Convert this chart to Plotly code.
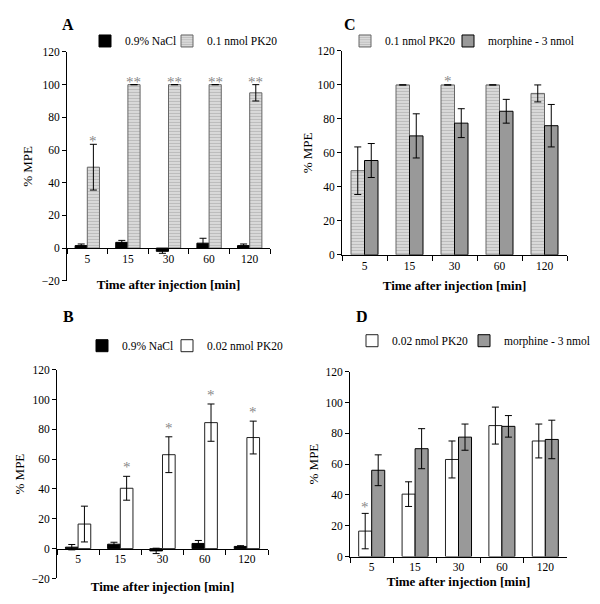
import plotly.graph_objects as go

times = ["5", "15", "30", "60", "120"]

# Panel A
a_nacl = [1.5, 3.5, -2.0, 3.0, 1.5]
a_nacl_err = [1.0, 1.2, 1.2, 3.0, 1.0]
a_pk01 = [49.5, 100, 100, 100, 95]
a_pk01_err = [14, 0, 0, 0, 5]
a_stars = ["*", "**", "**", "**", "**"]

# Panel B
b_nacl = [1.0, 3.0, -1.5, 3.5, 1.5]
b_nacl_err = [1.8, 1.3, 1.8, 2.0, 0.5]
b_pk002 = [16.5, 40.5, 63, 84.5, 74.5]
b_pk002_err = [12, 8, 12, 12.5, 11]
b_stars = ["", "*", "*", "*", "*"]

# Panel C
c_pk01 = [49.5, 100, 100, 100, 95]
c_pk01_err = [14, 0, 0, 0, 5]
c_morph = [55.5, 70, 77.5, 84.5, 76]
c_morph_err = [10, 13, 8.5, 7, 12.5]
c_stars = ["", "", "*", "", ""]

# Panel D
d_pk002 = [16.5, 40.5, 63, 85, 75]
d_pk002_err = [11.5, 8, 12, 12, 11]
d_morph = [56, 70, 77.5, 84.5, 76]
d_morph_err = [10, 13, 8.5, 7, 12.5]
d_stars = ["*", "", "", "", ""]

W, H = 600, 604
FONT = "'Liberation Serif', 'Times New Roman', Times, serif"
BARGAP = 0.4

fig = go.Figure()

def px_x(p):
    return p / W

def px_y(p):
    p = (p - 6.0) / 0.981
    return 1 - p / H

STYLES = {
    "nacl": dict(marker=dict(color="black", line=dict(color="black", width=1))),
    "pk01": dict(marker=dict(color="#cccccc", line=dict(color="#666666", width=1),
                             pattern=dict(shape="-", fgcolor="#969696", bgcolor="#e2e2e2",
                                          size=3, solidity=0.5))),
    "pk002": dict(marker=dict(color="white", line=dict(color="#222222", width=1))),
    "morph": dict(marker=dict(color="#999999", line=dict(color="black", width=1))),
}
NAMES = {
    "nacl": "0.9% NaCl",
    "pk01": "0.1 nmol PK20",
    "pk002": "0.02 nmol PK20",
    "morph": "morphine - 3 nmol",
}

legend_counter = [0]

def add_panel(idx, series, stars, star_series, star_shift):
    xa = "x" if idx == 1 else f"x{idx}"
    ya = "y" if idx == 1 else f"y{idx}"
    for key, vals, errs in series:
        legend_counter[0] += 1
        n = legend_counter[0]
        lg = "legend" if n == 1 else f"legend{n}"
        fig.add_trace(go.Bar(
            x=times, y=vals, name=NAMES[key], xaxis=xa, yaxis=ya, legend=lg,
            error_y=dict(type="data", array=errs, visible=True, color="black",
                         thickness=1, width=3.5),
            **STYLES[key],
        ))
    sidx, vals, errs = star_series
    off = (1 - BARGAP) / 4 * (1 if sidx == 1 else -1)
    for i, s in enumerate(stars):
        if s:
            fig.add_annotation(x=i + off, y=vals[i] + errs[i], xref=xa, yref=ya,
                               text=s, showarrow=False, yanchor="bottom", yshift=star_shift,
                               font=dict(family=FONT, size=15, color="#888888"))

add_panel(1, [("nacl", a_nacl, a_nacl_err), ("pk01", a_pk01, a_pk01_err)], a_stars, (1, a_pk01, a_pk01_err), -7)
add_panel(2, [("pk01", c_pk01, c_pk01_err), ("morph", c_morph, c_morph_err)], c_stars, (0, c_pk01, c_pk01_err), -6)
add_panel(3, [("nacl", b_nacl, b_nacl_err), ("pk002", b_pk002, b_pk002_err)], b_stars, (1, b_pk002, b_pk002_err), -1)
add_panel(4, [("pk002", d_pk002, d_pk002_err), ("morph", d_morph, d_morph_err)], d_stars, (0, d_pk002, d_pk002_err), -4)

tickfont = dict(family=FONT, size=11.5, color="black")
titlefont = dict(family=FONT, size=13, color="black")
xtitle = "<b>Time after injection [min]</b>"

def xaxis(domain, anchor, standoff, position=None):
    d = dict(domain=domain, type="category", showline=True, linecolor="black", linewidth=1,
             ticks="outside", tickson="boundaries", ticklen=5, tickcolor="black",
             tickfont=tickfont, showgrid=False, zeroline=False,
             title=dict(text=xtitle, font=titlefont, standoff=standoff))
    if position is not None:
        d.update(anchor="free", position=position)
    else:
        d.update(anchor=anchor)
    return d

def yaxis(domain, anchor, rng, standoff):
    return dict(domain=domain, anchor=anchor, range=rng, dtick=20, showline=True,
                linecolor="black", linewidth=1, ticks="outside", ticklen=4,
                tickcolor="black", tickfont=tickfont, showgrid=False, zeroline=False,
                title=dict(text="% MPE", font=titlefont, standoff=standoff))

fig.update_layout(
    xaxis=xaxis([px_x(67), px_x(270)], "y", 16, position=px_y(248)),
    yaxis=yaxis([px_y(281), px_y(52)], "x", [-20, 120], 6),
    xaxis2=xaxis([px_x(342), px_x(567)], "y2", 10),
    yaxis2=yaxis([px_y(255), px_y(51)], "x2", [0, 120], 1),
    xaxis3=xaxis([px_x(57), px_x(268)], "y3", 17, position=px_y(549)),
    yaxis3=yaxis([px_y(579), px_y(370)], "x3", [-20, 120], 4),
    xaxis4=xaxis([px_x(350), px_x(567)], "y4", 4),
    yaxis4=yaxis([px_y(557), px_y(372)], "x4", [0, 120], 3),
)

legfont = dict(family=FONT, size=11.5, color="black")
def legend(text_x, y):
    return dict(x=px_x(text_x - 36), y=px_y(y), xref="paper", yref="paper", xanchor="left",
                yanchor="middle", orientation="h", font=legfont, bgcolor="rgba(0,0,0,0)",
                itemwidth=30, tracegroupgap=0)

# legend text start positions (px) per trace, in trace order
leg_pos = [(121, 41), (203, 41), (381, 41), (484, 41), (118, 346), (203, 346), (388, 341), (500, 341)]
for n, (tx, ty) in enumerate(leg_pos, start=1):
    key = "legend" if n == 1 else f"legend{n}"
    fig.update_layout({key: legend(tx, ty)})

for txt, x, y in [("A", 68, 25), ("C", 350, 25), ("B", 68, 317), ("D", 362, 317)]:
    fig.add_annotation(x=px_x(x), y=px_y(y), xref="paper", yref="paper", text=f"<b>{txt}</b>",
                       xanchor="center", yanchor="middle",
                       showarrow=False, font=dict(family=FONT, size=16, color="black"))

fig.update_layout(
    width=W, height=H, margin=dict(l=0, r=0, t=0, b=0),
    paper_bgcolor="white", plot_bgcolor="white",
    barmode="group", bargap=BARGAP, bargroupgap=0,
    showlegend=True, font=dict(family=FONT),
)

fig.write_html("out.html", config={"displayModeBar": False},
               post_script="document.body.style.margin='0px';")
